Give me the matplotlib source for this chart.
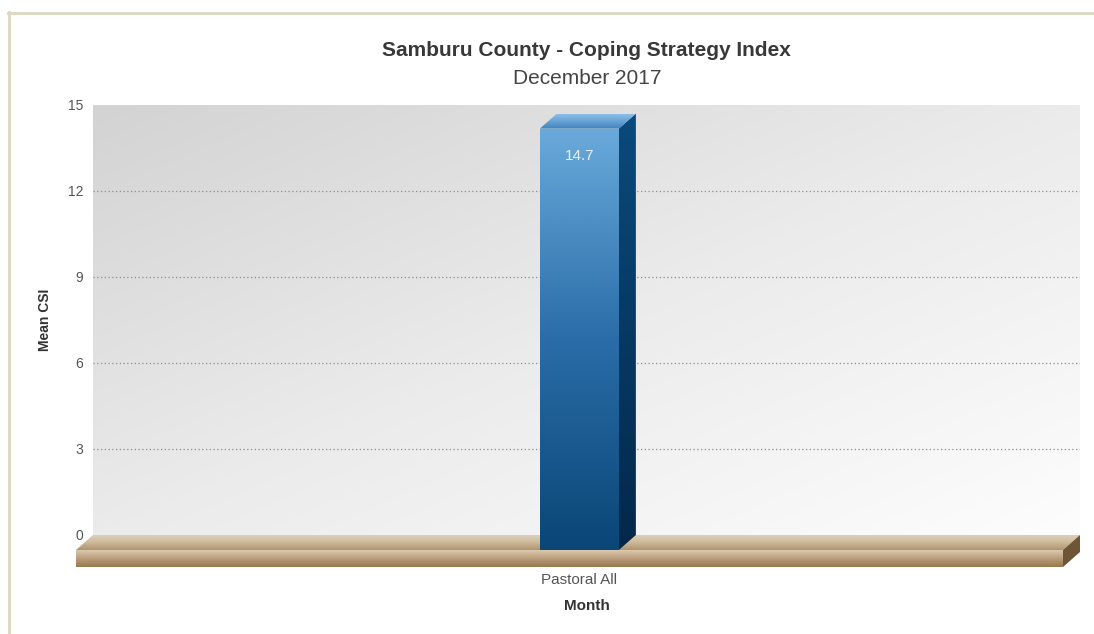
import numpy as np
import matplotlib.pyplot as plt
from matplotlib.patches import Polygon
from matplotlib.colors import LinearSegmentedColormap
from matplotlib.lines import Line2D

plt.rcParams['font.family'] = ['Liberation Sans', 'DejaVu Sans']

# data
categories = ["Pastoral All"]
values = [14.7]
y_ticks = [0, 3, 6, 9, 12, 15]

TITLE = "Samburu County - Coping Strategy Index"
SUBTITLE = "December 2017"
X_LABEL = "Month"
Y_LABEL = "Mean CSI"

W, H = 1094, 634
fig = plt.figure(figsize=(W / 100, H / 100), dpi=100)

# back wall of the 3d box (pixels)
wall_l, wall_r, wall_t, wall_b = 93, 1080, 105, 535
ax = fig.add_axes([wall_l / W, 1 - wall_b / H, (wall_r - wall_l) / W, (wall_b - wall_t) / H])
ax.set_xlim(-0.51, 0.49)
ax.set_ylim(0, 15)
ax.set_autoscale_on(False)

px_x = 1.0 / (wall_r - wall_l)
px_y = 15.0 / (wall_b - wall_t)
dx, dy = -17 * px_x, -15 * px_y    # shift from back plane to front plane
floor_h = 17 * px_y
bar_w = 79 * px_x


def grad_fill(verts, colors, vertical=True, z=2):
    # polygon filled with a linear gradient (bottom->top or left->right)
    poly = Polygon(verts, closed=True, facecolor='none', edgecolor='none',
                   clip_on=False, zorder=z)
    ax.add_patch(poly)
    xs = [v[0] for v in verts]
    ys = [v[1] for v in verts]
    cmap = LinearSegmentedColormap.from_list('g', colors)
    g = np.linspace(0, 1, 256)
    arr = g[:, None] if vertical else g[None, :]
    im = ax.imshow(arr, cmap=cmap, extent=(min(xs), max(xs), min(ys), max(ys)),
                   origin='lower', aspect='auto', interpolation='bilinear', zorder=z)
    im.set_clip_path(poly)
    im.set_clip_box(fig.bbox)
    return im


# wall background, darker at the top left
gx, gy = np.meshgrid(np.linspace(0, 1, 200), np.linspace(0, 1, 200))
wall = 0.5 * (gx + (1 - gy))
wall_cmap = LinearSegmentedColormap.from_list('wall', ['#d3d3d3', '#ebebeb', '#fdfdfd'])
x0, x1 = ax.get_xlim()
ax.imshow(wall, cmap=wall_cmap, extent=(x0, x1, 0, 15), origin='lower',
          aspect='auto', interpolation='bilinear', zorder=0)

# grid
ax.set_yticks(y_ticks)
ax.grid(axis='y', linestyle=(0, (1, 2)), color='#8c8c8c', linewidth=0.9)
ax.get_ygridlines()[-1].set_visible(False)
ax.get_ygridlines()[0].set_visible(False)
ax.set_axisbelow(False)
for s in ax.spines.values():
    s.set_visible(False)
ax.tick_params(axis='y', length=0, pad=7, labelsize=10, labelcolor='#555555')

# floor
grad_fill([(x0, 0), (x1, 0), (x1 + dx, dy), (x0 + dx, dy)],
          ['#b09370', '#cdb999', '#ddd0bb'], z=3)
grad_fill([(x0 + dx, dy), (x1 + dx, dy), (x1 + dx, dy - floor_h), (x0 + dx, dy - floor_h)],
          ['#97784f', '#b99d7a', '#dccab0'], z=3)
ax.add_patch(Polygon([(x1 + dx, dy), (x1, 0), (x1, -floor_h), (x1 + dx, dy - floor_h)],
                     closed=True, facecolor='#6e5535', edgecolor='none', clip_on=False, zorder=3))

# bars
for i, v in enumerate(values):
    bl, br = i - bar_w / 2, i + bar_w / 2
    grad_fill([(bl + dx, dy), (br + dx, dy), (br + dx, v + dy), (bl + dx, v + dy)],
              ['#0a4676', '#2a6da8', '#6aaadb'], z=5)
    grad_fill([(br + dx, dy), (br, 0), (br, v), (br + dx, v + dy)],
              ['#03284a', '#0b4a7c'], z=5)
    grad_fill([(bl + dx, v + dy), (bl, v), (br, v), (br + dx, v + dy)],
              ['#3f82bd', '#8cc0e8'], z=5)
    ax.text(i + dx, v + dy - 27 * px_y, f"{v:g}", ha='center', va='center',
            fontsize=11, color='#e8f0f8', zorder=6)

# x axis labels sit under the front of the bars
ax.set_xticks([i + dx for i in range(len(categories))], categories)
ax.tick_params(axis='x', length=0, pad=27, labelsize=11, labelcolor='#555555')

ax.set_xlabel(X_LABEL, fontsize=11, fontweight='bold', color='#333333')
ax.xaxis.set_label_coords(0.5, -0.165)
ax.xaxis.label.set_va('center')
ax.set_ylabel(Y_LABEL, fontsize=10, fontweight='bold', color='#333333')
ax.yaxis.set_label_coords(-48 / (wall_r - wall_l), 0.5)
ax.yaxis.label.set_va('center')

fig.text(586 / W, 1 - 50 / H, TITLE, ha='center', va='center',
         fontsize=15, fontweight='bold', color='#383838')
fig.text(587 / W, 1 - 79 / H, SUBTITLE, ha='center', va='center',
         fontsize=15, color='#444444')

# outer frame
fig.add_artist(Line2D([8.5 / W, 8.5 / W], [0, 1 - 12 / H], color='#dcd8bf', lw=2))
fig.add_artist(Line2D([8 / W, 1], [1 - 12.5 / H, 1 - 12.5 / H], color='#dcd8bf', lw=2))

fig.savefig('out.png', dpi=100)
